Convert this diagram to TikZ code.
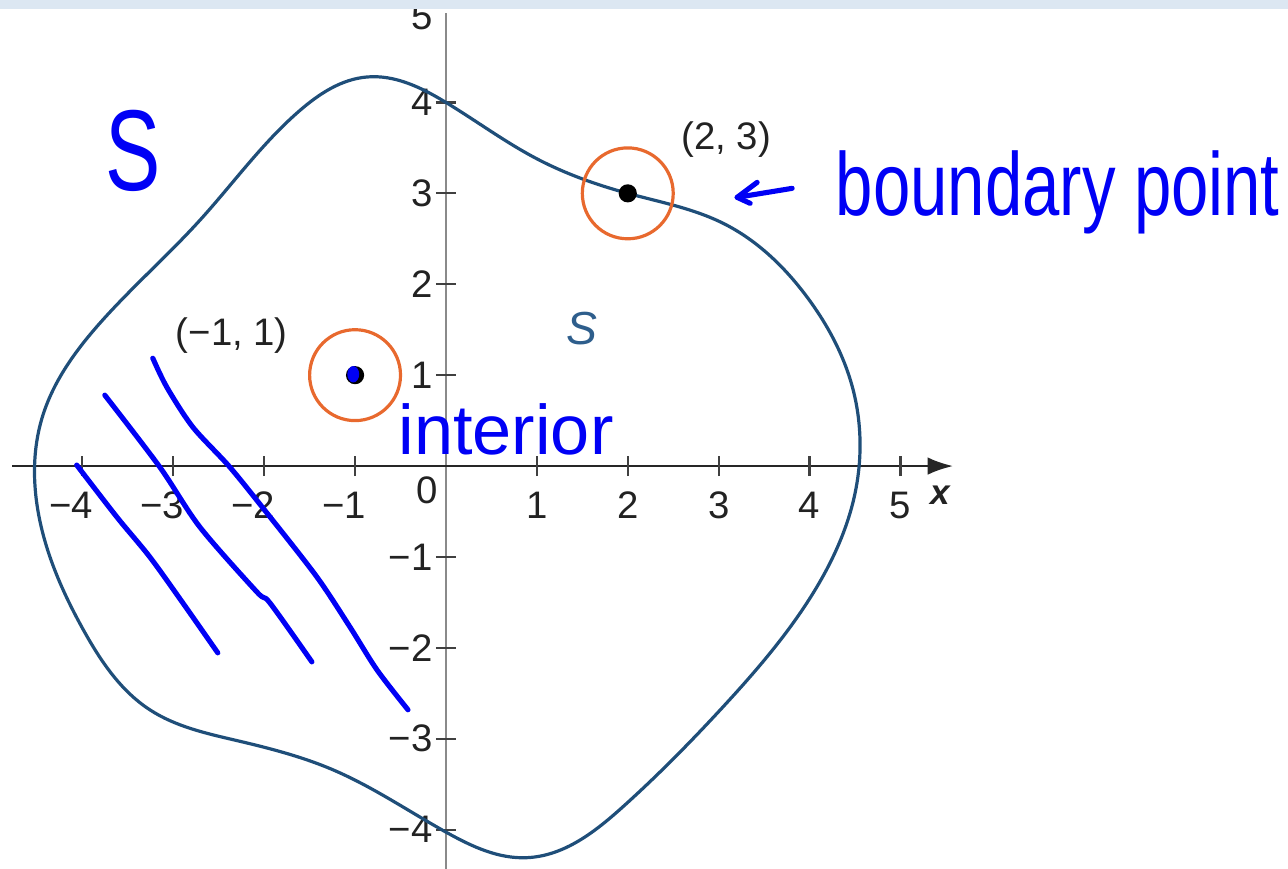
\documentclass[tikz,border=0pt]{standalone}
\usepackage{fontspec}
\setmainfont{Liberation Sans}
\usetikzlibrary{arrows.meta,hobby}
\definecolor{curveblue}{HTML}{1F4E79}
\definecolor{slabel}{HTML}{2E5E8C}
\definecolor{ringorange}{HTML}{E8692E}
\definecolor{ink}{HTML}{0000F5}
\definecolor{stripblue}{HTML}{DCE7F2}
\definecolor{yaxisgray}{HTML}{8A8A8A}
\definecolor{labelgray}{HTML}{222222}
\begin{document}
\begin{tikzpicture}[x=1cm,y=1cm,
  lbl/.style={font=\fontsize{12}{14}\selectfont, text=labelgray, inner sep=0pt},
  ring/.style={circle, draw=ringorange, line width=1pt, minimum size=1.0cm, inner sep=0pt},
  blackdot/.style={circle, fill=black, minimum size=0.2cm, inner sep=0pt},
  hand/.style={draw=ink, line width=1.6pt, line cap=round, line join=round},
  handtext/.style={text=ink, inner sep=0pt},
  tickmark/.style={draw=black!75, line width=0.7pt}]
\useasboundingbox (-4.906,-4.422) rectangle (9.263,5.127);

% axes
\coordinate (ytop) at (0,4.983);
\coordinate (ybot) at (0,-4.6);
\coordinate (xl) at (-4.77,0);
\coordinate (xr) at (5.58,0);
\draw[yaxisgray, line width=0.9pt] (ybot) -- (ytop);
\draw[black!85, line width=0.8pt, -{Latex[length=8pt,width=5.5pt]}] (xl) -- (xr);

% ticks
\foreach \k in {-4,-3,-2,-1,1,2,3,4,5}
  \draw[tickmark] (\k,-0.11) -- (\k,0.11);
\foreach \k in {-4,-3,-2,-1,1,2,3,4}
  \draw[tickmark] (-0.11,\k) -- (0.11,\k);

% x tick labels
\foreach \k in {1,2,3,4,5}
  \node[lbl] (xl\k) at (\k,-0.43) {\k};
\foreach \k in {1,2,3,4}
  \node[lbl] (xm\k) at (-\k,-0.43) {\llap{−}\k};
\node[lbl] (zero) at (-0.209,-0.264) {0};
\node[font=\fontsize{11}{13}\selectfont\bfseries\itshape, text=labelgray, inner sep=0pt] (xname) at (5.437,-0.319) {x};

% y tick labels
\foreach \k in {1,2,3,4}
  \node[lbl, anchor=east] (yl\k) at (-0.14,\k) {\k};
\foreach \k in {1,2,3,4}
  \node[lbl, anchor=east] (ym\k) at (-0.14,-\k) {−\k};
\node[lbl, anchor=east] (yl5) at (-0.14,4.95) {5};

% region boundary
\draw[curveblue, line width=1pt] plot[closed hobby] coordinates {
  (0,4.0) (1.0,3.38) (2,3) (3.05,2.67) (3.974,1.857) (4.48,0.835)
  (4.50,-0.3) (4.04,-1.396) (3.049,-2.648) (1.948,-3.747) (0.892,-4.308)
  (0.011,-4.033) (-1.244,-3.341) (-2.3,-3.02) (-3.258,-2.681) (-3.99,-1.80)
  (-4.436,-0.736) (-4.44,0.54) (-3.808,1.571) (-2.708,2.703) (-1.607,3.912)
  (-0.87,4.28)};

% rings and points
\node[ring] (r23) at (2,3) {};
\node[blackdot] (p23) at (2,3) {};
\node[ring] (rm11) at (-1,1) {};
\node[blackdot] (pm11) at (-1,1) {};
\fill[ink] (-1.02,1.01) ellipse (0.065 and 0.09);

% printed labels
\node[lbl] (l23) at (3.082,3.593) {(2, 3)};
\node[lbl] (lm11) at (-2.356,1.44) {(−1, 1)};
\node[font=\fontsize{14.5}{16}\selectfont\itshape, text=slabel, inner sep=0pt] (Slbl) at (1.497,1.516) {S};

% handwritten hatch lines
\draw[hand] plot[smooth] coordinates {(-4.062,0.011) (-3.621,-0.560) (-3.258,-1.0) (-2.895,-1.505) (-2.510,-2.055)};
\draw[hand] plot[smooth] coordinates {(-3.753,0.780) (-3.148,-0.011) (-2.708,-0.670) (-2.080,-1.385) (-1.937,-1.505) (-1.475,-2.154)};
\draw[hand] plot[smooth] coordinates {(-3.225,1.187) (-3.071,0.868) (-2.785,0.429) (-2.378,-0.011) (-1.970,-0.516) (-1.420,-1.220) (-1.057,-1.769) (-0.759,-2.242) (-0.418,-2.681)};

% handwritten arrow
\coordinate (atail) at (3.808,3.055);
\coordinate (atip) at (3.203,2.956);
\coordinate (aup) at (3.423,3.121);
\coordinate (alow) at (3.346,2.890);
\draw[hand] (atail) -- (atip);
\draw[hand] (aup) -- (atip) -- (alow);

% handwritten words
\node[handtext, anchor=base west] (hS) at (-3.753,3.033) {\fontsize{36}{40}\selectfont\scalebox{0.72}[1]{S}};
\node[handtext, anchor=base west] (hb) at (4.282,2.758) {\fontsize{28}{32}\selectfont\scalebox{0.75}[1]{boundary point}};
\node[handtext, anchor=base west] (hi) at (-0.528,0.13) {\fontsize{22}{26}\selectfont interior};

% top strip
\fill[stripblue] (-4.906,5.028) rectangle (9.263,5.127);
\end{tikzpicture}
\end{document}
